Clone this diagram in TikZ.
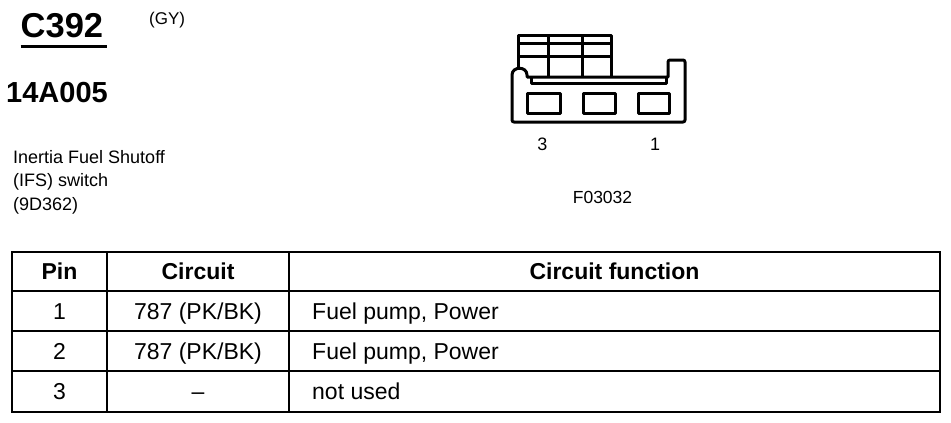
\documentclass[tikz,border=0pt]{standalone}
\usepackage{fontspec}
\setmainfont{Liberation Sans}
\usepackage{tikz}

\begin{document}
\begin{tikzpicture}[x=1pt,y=-1pt,
every node/.style={inner sep=0pt},
body line/.style={line width=3pt,line join=round},
rule line/.style={line width=2.6pt},
small text/.style={font=\fontsize{18}{23.5}\selectfont},
cell text/.style={font=\fontsize{23}{27}\selectfont,anchor=base},
head text/.style={font=\bfseries\fontsize{23}{27}\selectfont,anchor=base}]
\useasboundingbox (0,0) rectangle (951,423);

% heading
\node[anchor=base west,font=\bfseries\fontsize{34.5}{34.5}\selectfont] (title) at (20.5,37) {C392};
\draw[line width=3pt] ([yshift=-9.5pt]title.base west) -- ([xshift=4pt,yshift=-9.5pt]title.base east);
\node[anchor=base west,font=\fontsize{17}{17}\selectfont] (colour) at (149,24.5) {(GY)};
\node[anchor=base west,font=\bfseries\fontsize{29}{29}\selectfont] (partno) at (6,102) {14A005};
\node[anchor=north west,align=left,small text] (desc) at (13,150)
  {Inertia Fuel Shutoff\\(IFS) switch\\(9D362)};

% connector face
\draw[body line] (512,122) -- (512,75) .. controls (512,66) and (527,66) .. (527,75)
  -- (527,77) -- (668,77) [rounded corners=2pt] -- (668,60) -- (685,60) -- (685,122) -- cycle;
\draw[body line] (531,77) -- (531,83) -- (666,83) -- (666,77);
\draw[body line] (518,68.5) -- (518,35) -- (611,35) -- (611,77);
\draw[body line] (548,35) -- (548,77);
\draw[body line] (582,35) -- (582,77);
\draw[body line] (518,43) -- (611,43);
\draw[body line] (518,56) -- (611,56);
\draw[body line] (527,93) rectangle (560,113);
\draw[body line] (583,93) rectangle (615,113);
\draw[body line] (638,93) rectangle (669,113);
\node[small text,anchor=base] (pin3) at (542.5,150) {3};
\node[small text,anchor=base] (pin1) at (655,150) {1};
\node[font=\fontsize{17.5}{17.5}\selectfont,anchor=base] (figno) at (602.5,203.5) {F03032};

% pin table
\draw[rule line] (12,252) rectangle (940,412);
\draw[rule line] (12,291) -- (940,291);
\draw[rule line] (12,331) -- (940,331);
\draw[rule line] (12,371) -- (940,371);
\draw[rule line] (107,252) -- (107,412);
\draw[rule line] (289,252) -- (289,412);
\node[head text] (hpin) at (59.5,279.5) {Pin};
\node[head text] (hcirc) at (198,279.5) {Circuit};
\node[head text] (hfunc) at (614.5,279.5) {Circuit function};
\node[cell text] (pin1a) at (59.5,319) {1};
\node[cell text] (circ1) at (198,319) {787 (PK/BK)};
\node[cell text,anchor=base west] (func1) at (312,319) {Fuel pump, Power};
\node[cell text] (pin2a) at (59.5,359) {2};
\node[cell text] (circ2) at (198,359) {787 (PK/BK)};
\node[cell text,anchor=base west] (func2) at (312,359) {Fuel pump, Power};
\node[cell text] (pin3a) at (59.5,399) {3};
\node[cell text] (circ3) at (198,399) {--};
\node[cell text,anchor=base west] (func3) at (312,399) {not used};
\end{tikzpicture}
\end{document}
